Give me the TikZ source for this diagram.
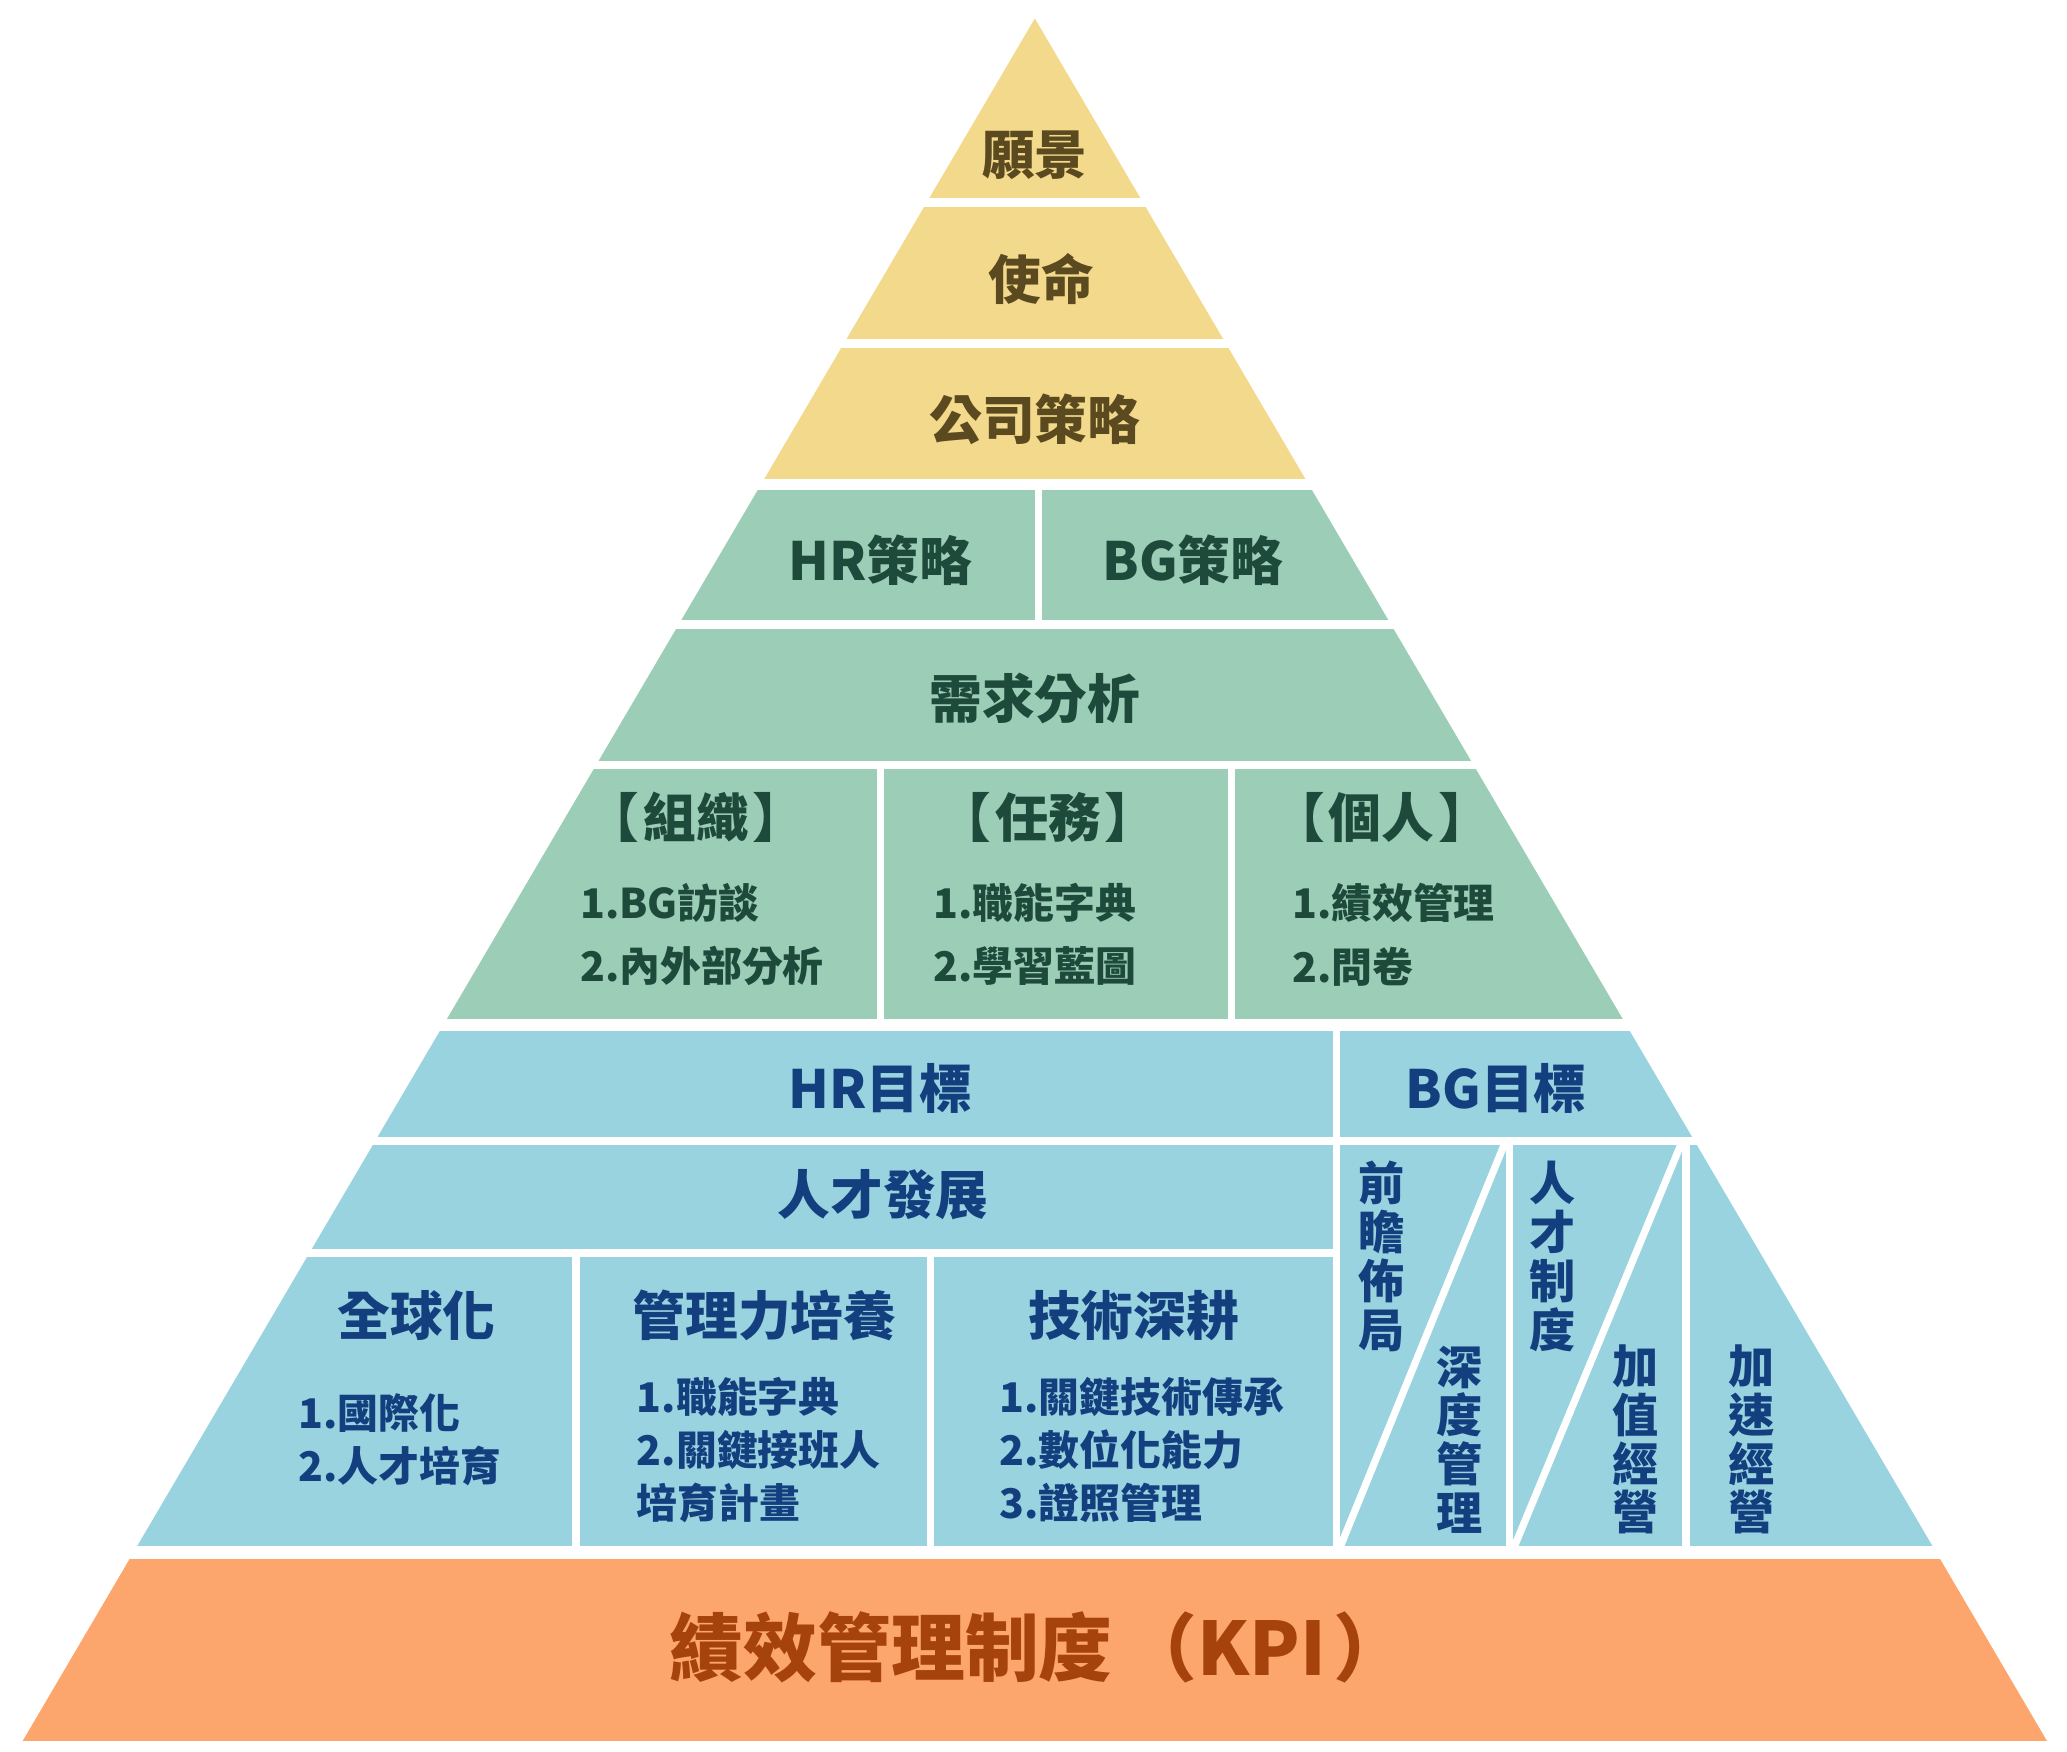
\documentclass[tikz,border=0pt]{standalone}
\usepackage{fontspec}
\setmainfont{Noto Sans CJK TC}
\definecolor{ylwfill}{HTML}{F3D98C}
\definecolor{grnfill}{HTML}{9CCDB7}
\definecolor{blufill}{HTML}{98D3DF}
\definecolor{orgfill}{HTML}{FCA56C}
\definecolor{ylwtext}{HTML}{5B4A1F}
\definecolor{grntext}{HTML}{1D4A3A}
\definecolor{blutext}{HTML}{133F7F}
\definecolor{orgtext}{HTML}{A6420B}
\tikzset{
  gapline/.style={white,line width=5.5pt},
  ytitle/.style={text=ylwtext,font=\fontsize{40}{44}\selectfont\bfseries,inner sep=0pt},
  gtitle/.style={text=grntext,font=\fontsize{40}{44}\selectfont\bfseries,inner sep=0pt},
  glist/.style={text=grntext,font=\fontsize{31}{48}\selectfont\bfseries,inner sep=0pt,anchor=west,align=left},
  btitle/.style={text=blutext,font=\fontsize{40}{44}\selectfont\bfseries,inner sep=0pt},
  blist/.style={text=blutext,font=\fontsize{31}{40}\selectfont\bfseries,inner sep=0pt,anchor=west,align=left},
  bvert/.style={text=blutext,font=\fontsize{35}{37}\selectfont\bfseries,inner sep=0pt,align=center},
  otitle/.style={text=orgtext,font=\fontsize{56}{60}\selectfont\bfseries,inner sep=0pt}
}
\begin{document}
\begin{tikzpicture}[x=1pt,y=-1pt]
\useasboundingbox (0,0) rectangle (1568,1329);
\begin{scope}
\clip (785,14) -- (1553,1321) -- (17,1321) -- cycle;
\fill[ylwfill] (0,10) rectangle (1568,150);
\fill[ylwfill] (0,157) rectangle (1568,257);
\fill[ylwfill] (0,264) rectangle (1568,363);
\fill[grnfill] (0,372) rectangle (1568,470);
\fill[grnfill] (0,477) rectangle (1568,577);
\fill[grnfill] (0,583) rectangle (1568,773);
\fill[blufill] (0,782) rectangle (1568,1173);
\fill[orgfill] (0,1183) rectangle (1568,1321);
\end{scope}
% dividers
\draw[gapline] (788,368) -- (788,474);
\draw[gapline] (668,580) -- (668,776);
\draw[gapline] (934,580) -- (934,776);
\draw[gapline] (0,865.5) -- (1568,865.5);
\draw[gapline] (0,950.5) -- (1014,950.5);
\draw[gapline] (1014,778) -- (1014,1177);
\draw[gapline] (437,950) -- (437,1177);
\draw[gapline] (706,950) -- (706,1177);
\draw[gapline] (1145,865) -- (1145,1177);
\draw[gapline] (1279,865) -- (1279,1177);
\draw[gapline] (1016,1175) -- (1142,866);
\draw[gapline] (1148,1175) -- (1276,866);
% yellow
\node[ytitle] (vision) at (785,118) {願景};
\node[ytitle] (mission) at (790,212) {使命};
\node[ytitle] (corp) at (785,318) {公司策略};
% green
\node[gtitle] (hrs) at (668,425) {HR策略};
\node[gtitle] (bgs) at (905,425) {BG策略};
\node[gtitle] (needs) at (785,530) {需求分析};
\node[gtitle] (org) at (528,620) {【\hspace{3pt}組織\hspace{3pt}】};
\node[gtitle] (task) at (795,620) {【\hspace{3pt}任務\hspace{3pt}】};
\node[gtitle] (person) at (1048,620) {【\hspace{3pt}個人\hspace{3pt}】};
\node[glist] (orglist) at (440,709) {1.BG訪談\\2.內外部分析};
\node[glist] (tasklist) at (708,709) {1.職能字典\\2.學習藍圖};
\node[glist] (perlist) at (980,709) {1.績效管理\\2.問卷};
% blue
\node[btitle] (hrg) at (668,826) {HR目標};
\node[btitle] (bgg) at (1135,826) {BG目標};
\node[btitle] (talent) at (670,906) {人才發展};
\node[btitle] (glob) at (316,998) {全球化};
\node[btitle] (mgmt) at (580,998) {管理力培養};
\node[btitle] (tech) at (860,998) {技術深耕};
\node[blist] (globlist) at (226,1092) {1.國際化\\2.人才培育};
\node[blist] (mgmtlist) at (483,1100) {1.職能字典\\2.關鍵接班人\\培育計畫};
\node[blist] (techlist) at (758,1100) {1.關鍵技術傳承\\2.數位化能力\\3.證照管理};
\node[bvert] (v1) at (1048,953) {前\\瞻\\佈\\局};
\node[bvert] (v2) at (1107,1092) {深\\度\\管\\理};
\node[bvert] (v3) at (1178,953) {人\\才\\制\\度};
\node[bvert] (v4) at (1241,1092) {加\\值\\經\\營};
\node[bvert] (v5) at (1329,1092) {加\\速\\經\\營};
% orange
\node[otitle] (kpi) at (788,1250) {績效管理制度\hspace{8pt}（KPI\hspace{6pt}）};
\end{tikzpicture}
\end{document}
